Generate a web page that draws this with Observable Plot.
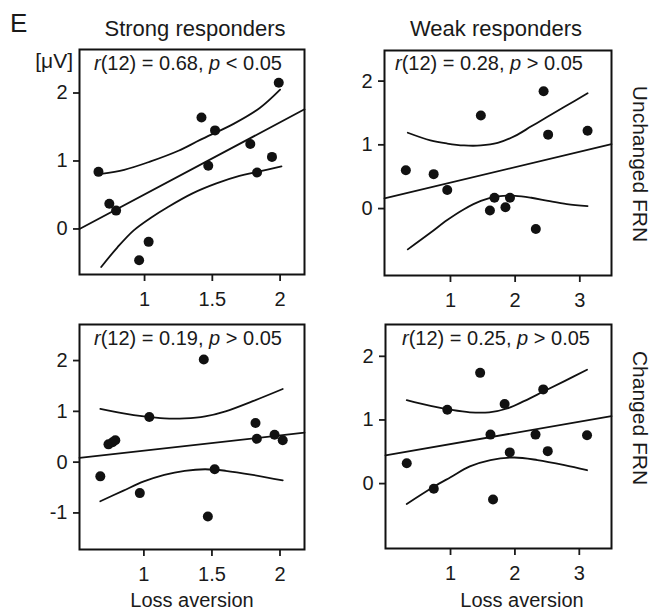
<!DOCTYPE html>
<html><head><meta charset="utf-8">
<script src="https://cdn.jsdelivr.net/npm/d3@7"></script>
<script src="https://cdn.jsdelivr.net/npm/@observablehq/plot@0.6"></script>
<style>
body{margin:0;background:#fff;}
#fig{position:relative;width:659px;height:613px;overflow:hidden;font-family:"Liberation Sans",Arial,sans-serif;color:#1a1a1a;}
.t{position:absolute;white-space:nowrap;font-size:20px;line-height:20px;}
.c{transform:translateX(-50%);}
.rot{transform:translate(-50%,-50%) rotate(90deg);}
.panel{position:absolute;}
.panel svg{overflow:visible;}
</style></head>
<body><div id="fig"></div>
<script>
// ---- Data ----
const columnTitles = ["Strong responders", "Weak responders"];
const rowTitles = ["Unchanged FRN", "Changed FRN"];
const xAxisTitle = "Loss aversion";
const unitLabel = "[μV]";
const panelLetter = "E";
const rValues = ["0.68", "0.28", "0.19", "0.25"];
const pSigns = ["<", ">", ">", ">"];

const strongTicksX = [1, 1.5, 2];
const weakTicksX = [1, 2, 3];
const ticksY_top = [0, 1, 2];
const ticksY_bottomLeft = [-1, 0, 1, 2];

// Panel 1: Strong responders, Unchanged FRN
const p1X = [0.66, 0.74, 0.79, 0.96, 1.03, 1.42, 1.47, 1.52, 1.78, 1.83, 1.94, 1.99];
const p1Y = [0.84, 0.37, 0.27, -0.46, -0.19, 1.64, 0.93, 1.45, 1.25, 0.83, 1.06, 2.15];
const p1FitX = [0.52, 2.18];
const p1FitY = [0.0, 1.76];
const p1UpX = [0.68, 0.85, 1.04, 1.25, 1.41, 1.66, 1.85, 2.0];
const p1UpY = [0.81, 0.87, 0.99, 1.15, 1.31, 1.55, 1.78, 2.05];
const p1LoX = [0.68, 0.8, 0.92, 1.05, 1.17, 1.35, 1.53, 1.7, 1.83, 2.01];
const p1LoY = [-0.56, -0.27, -0.02, 0.17, 0.32, 0.52, 0.67, 0.78, 0.84, 0.92];

// Panel 2: Weak responders, Unchanged FRN
const p2X = [0.31, 0.74, 0.95, 1.47, 1.61, 1.68, 1.85, 1.92, 2.32, 2.44, 2.51, 3.12];
const p2Y = [0.60, 0.54, 0.29, 1.46, -0.03, 0.17, 0.02, 0.17, -0.32, 1.84, 1.16, 1.22];
const p2FitX = [-0.02, 3.49];
const p2FitY = [0.16, 1.01];
const p2UpX = [0.34, 0.69, 0.95, 1.21, 1.47, 1.73, 2.0, 2.25, 2.5, 2.77, 3.12];
const p2UpY = [1.19, 1.07, 1.02, 0.99, 0.99, 1.03, 1.14, 1.29, 1.44, 1.60, 1.81];
const p2LoX = [0.34, 0.69, 0.95, 1.21, 1.47, 1.73, 2.0, 2.25, 2.51, 2.8, 3.12];
const p2LoY = [-0.64, -0.38, -0.18, -0.01, 0.12, 0.19, 0.20, 0.17, 0.12, 0.07, 0.04];

// Panel 3: Strong responders, Changed FRN
const p3X = [0.68, 0.74, 0.77, 0.79, 0.97, 1.04, 1.44, 1.47, 1.52, 1.82, 1.83, 1.96, 2.02];
const p3Y = [-0.28, 0.35, 0.39, 0.43, -0.61, 0.89, 2.02, -1.07, -0.14, 0.77, 0.46, 0.54, 0.43];
const p3FitX = [0.527, 2.18];
const p3FitY = [0.085, 0.58];
const p3UpX = [0.68, 0.85, 1.0, 1.15, 1.3, 1.45, 1.6, 1.8, 2.02];
const p3UpY = [1.05, 0.96, 0.90, 0.86, 0.86, 0.90, 1.0, 1.2, 1.44];
const p3LoX = [0.68, 0.85, 1.0, 1.15, 1.3, 1.45, 1.6, 1.8, 2.02];
const p3LoY = [-0.77, -0.56, -0.38, -0.25, -0.17, -0.14, -0.17, -0.25, -0.36];

// Panel 4: Weak responders, Changed FRN
const p4X = [0.32, 0.74, 0.95, 1.46, 1.62, 1.66, 1.84, 1.92, 2.32, 2.44, 2.51, 3.12];
const p4Y = [0.32, -0.08, 1.16, 1.74, 0.77, -0.25, 1.25, 0.49, 0.77, 1.48, 0.51, 0.76];
const p4FitX = [-0.01, 3.5];
const p4FitY = [0.445, 1.06];
const p4UpX = [0.32, 0.69, 1.0, 1.3, 1.6, 1.88, 2.15, 2.45, 2.77, 3.12];
const p4UpY = [1.31, 1.22, 1.16, 1.12, 1.12, 1.18, 1.30, 1.45, 1.61, 1.79];
const p4LoX = [0.32, 0.74, 1.0, 1.3, 1.62, 1.99, 2.35, 2.77, 3.12];
const p4LoY = [-0.32, -0.05, 0.10, 0.27, 0.37, 0.41, 0.37, 0.29, 0.21];

// ---- Build ----
const zip = (xs, ys) => xs.map((x, i) => ({x, y: ys[i]}));
const fig = document.getElementById("fig");
const FONT = '"Liberation Sans", Arial, sans-serif';
const INK = "#111";
const ML = 50, MR = 6, MT = 6, MB = 40;

function makePanel(cfg) {
  const plot = Plot.plot({
    width: ML + cfg.w + MR,
    height: MT + cfg.h + MB,
    marginLeft: ML, marginRight: MR, marginTop: MT, marginBottom: MB,
    style: {fontFamily: FONT, fontSize: "20px", color: "#1a1a1a", background: "transparent", overflow: "visible"},
    x: {domain: cfg.xDomain},
    y: {domain: cfg.yDomain},
    marks: [
      Plot.axisX({ticks: cfg.xTicks, tickSize: 7, tickPadding: 10, strokeWidth: 1.8, tickFormat: d => String(d), label: null}),
      Plot.axisY({ticks: cfg.yTicks, tickSize: 6, tickPadding: 6, strokeWidth: 1.8, tickFormat: d => String(d), label: null}),
      Plot.line(zip(cfg.fitX, cfg.fitY), {x: "x", y: "y", stroke: INK, strokeWidth: 1.8}),
      Plot.line(zip(cfg.upX, cfg.upY), {x: "x", y: "y", stroke: INK, strokeWidth: 1.8, curve: "catmull-rom"}),
      Plot.line(zip(cfg.loX, cfg.loY), {x: "x", y: "y", stroke: INK, strokeWidth: 1.8, curve: "catmull-rom"}),
      Plot.dot(zip(cfg.px, cfg.py), {x: "x", y: "y", r: 5, fill: INK, stroke: "none"}),
      Plot.frame({stroke: INK, strokeWidth: 2})
    ]
  });
  const div = document.createElement("div");
  div.className = "panel";
  div.style.left = (cfg.left - ML) + "px";
  div.style.top = (cfg.top - MT) + "px";
  div.appendChild(plot);
  fig.appendChild(div);
}

makePanel({left: 79, top: 49, w: 225, h: 225, xDomain: [0.52, 2.18], yDomain: [-0.67, 2.64],
  xTicks: strongTicksX, yTicks: ticksY_top, px: p1X, py: p1Y, fitX: p1FitX, fitY: p1FitY,
  upX: p1UpX, upY: p1UpY, loX: p1LoX, loY: p1LoY});
makePanel({left: 384, top: 50, w: 227, h: 225, xDomain: [-0.02, 3.49], yDomain: [-1.05, 2.48],
  xTicks: weakTicksX, yTicks: ticksY_top, px: p2X, py: p2Y, fitX: p2FitX, fitY: p2FitY,
  upX: p2UpX, upY: p2UpY, loX: p2LoX, loY: p2LoY});
makePanel({left: 79, top: 324, w: 225, h: 225, xDomain: [0.527, 2.18], yDomain: [-1.72, 2.71],
  xTicks: strongTicksX, yTicks: ticksY_bottomLeft, px: p3X, py: p3Y, fitX: p3FitX, fitY: p3FitY,
  upX: p3UpX, upY: p3UpY, loX: p3LoX, loY: p3LoY});
makePanel({left: 385, top: 324, w: 226, h: 224, xDomain: [-0.01, 3.5], yDomain: [-1.02, 2.50],
  xTicks: weakTicksX, yTicks: ticksY_top, px: p4X, py: p4Y, fitX: p4FitX, fitY: p4FitY,
  upX: p4UpX, upY: p4UpY, loX: p4LoX, loY: p4LoY});

function addText(html, style, cls) {
  const d = document.createElement("div");
  d.className = "t " + (cls || "");
  d.innerHTML = html;
  Object.assign(d.style, style);
  fig.appendChild(d);
  return d;
}

addText(panelLetter, {left: "10px", top: "10px", fontSize: "26px", lineHeight: "26px"});
addText(unitLabel, {right: (659 - 73) + "px", top: "50px", fontSize: "21px", lineHeight: "21px"});
addText(columnTitles[0], {left: "195px", top: "18px", fontSize: "22px", lineHeight: "22px"}, "c");
addText(columnTitles[1], {left: "496px", top: "18px", fontSize: "22px", lineHeight: "22px"}, "c");
addText(rowTitles[0], {left: "640px", top: "164px", fontSize: "21px", lineHeight: "21px"}, "rot");
addText(rowTitles[1], {left: "640px", top: "418px", fontSize: "21px", lineHeight: "21px"}, "rot");

const statPos = [[188, 52.5], [489, 52.5], [188, 327.5], [496, 327.5]];
statPos.forEach(([x, y], i) => {
  addText(`<i>r</i>(12) = ${rValues[i]}, <i>p</i> ${pSigns[i]} 0.05`, {left: x + "px", top: y + "px"}, "c");
});
addText(xAxisTitle, {left: "192px", top: "590px"}, "c");
addText(xAxisTitle, {left: "522px", top: "590px"}, "c");
</script>
</body></html>
